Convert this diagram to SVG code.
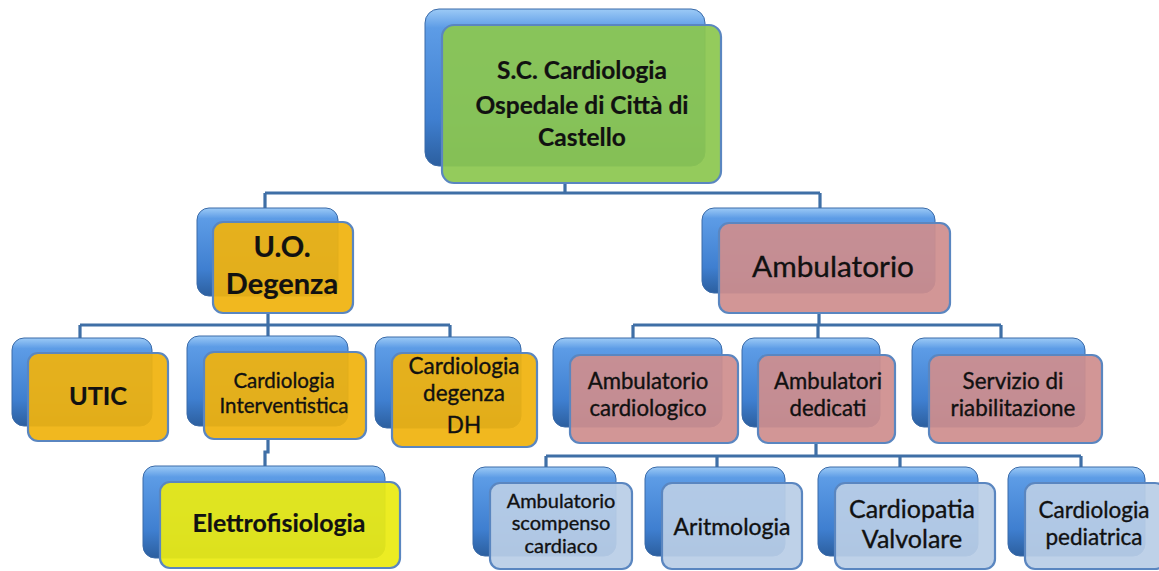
<svg xmlns="http://www.w3.org/2000/svg" width="1159" height="571" viewBox="0 0 1159 571">
<defs>
<linearGradient id="blueBack" x1="0" y1="0" x2="0" y2="1">
<stop offset="0" stop-color="#9ccaf6"/>
<stop offset="0.12" stop-color="#5d9ce6"/>
<stop offset="0.7" stop-color="#3f7fd0"/>
<stop offset="1" stop-color="#2c5f9f"/>
</linearGradient>
<style>
.back{fill:url(#blueBack);stroke:#3a6aa8;stroke-width:1}
.front{stroke:#5a86c0;stroke-width:2.2;fill-opacity:0.93}
.green{fill:#8cc750}
.orange{fill:#f0b30e}
.pink{fill:#cf8e8e}
.yellow{fill:#ebeb12}
.lblue{fill:#b9cde6}
text{font-family:Lato,"Open Sans","Liberation Sans",sans-serif;fill:#111;text-anchor:middle;stroke:#111;stroke-width:0.35}
.b{font-weight:700;stroke-width:0.2}
.conn{fill:none;stroke:#3f6fa6;stroke-width:3.2}
</style>
</defs>
<rect width="1159" height="571" fill="#ffffff"/>
<g id="connectors">
<path class="conn" d="M565 183V193M265 193H820M265 193V208M820 193V208"/>
<path class="conn" d="M268 313V325M80 325H450M80 325V340M268 325V338M450 325V339"/>
<path class="conn" d="M819 313V325M633 325H1001M633 325V340M818 325V340M1001 325V340"/>
<path class="conn" d="M268 439V452H265V467"/>
<path class="conn" d="M816 443V456M546 456H1081M546 456V468M717 456V468M900 456V468M1081 456V468"/>
</g>
<g id="n-top">
<rect class="back" x="425" y="9" width="280" height="157" rx="14"/>
<rect class="front green" x="442" y="25" width="279" height="158" rx="12"/>
<text class="b" x="582" y="79" font-size="24.5">S.C. Cardiologia</text>
<text class="b" x="582" y="114" font-size="24.5">Ospedale di Città di</text>
<text class="b" x="582" y="146" font-size="24.5">Castello</text>
</g>
<g id="n-degenza">
<rect class="back" x="197" y="208" width="141" height="88" rx="12"/>
<rect class="front orange" x="213" y="222" width="140" height="91" rx="10"/>
<text class="b" x="282" y="257" font-size="29">U.O.</text>
<text class="b" x="282" y="294" font-size="29">Degenza</text>
</g>
<g id="n-ambulatorio">
<rect class="back" x="702" y="208" width="233" height="85" rx="12"/>
<rect class="front pink" x="719" y="223" width="231" height="90" rx="10"/>
<text x="833" y="277" font-size="29.8">Ambulatorio</text>
</g>
<g id="n-utic">
<rect class="back" x="12" y="338" width="140" height="88" rx="12"/>
<rect class="front orange" x="28" y="353" width="140" height="88" rx="10"/>
<text class="b" x="98" y="405" font-size="25.3">UTIC</text>
</g>
<g id="n-interv">
<rect class="back" x="187" y="336" width="161" height="90" rx="12"/>
<rect class="front orange" x="204" y="352" width="162" height="87" rx="10"/>
<text x="284" y="388" font-size="20.5">Cardiologia</text>
<text x="284" y="413" font-size="20.5">Interventistica</text>
</g>
<g id="n-dh">
<rect class="back" x="375" y="337" width="146" height="91" rx="12"/>
<rect class="front orange" x="392" y="353" width="145" height="94" rx="10"/>
<text x="464" y="374" font-size="22.5">Cardiologia</text>
<text x="464" y="401" font-size="22.5">degenza</text>
<text x="464" y="433" font-size="22.5">DH</text>
</g>
<g id="n-amb-cardio">
<rect class="back" x="553" y="338" width="169" height="89" rx="12"/>
<rect class="front pink" x="570" y="355" width="168" height="88" rx="10"/>
<text x="648" y="389" font-size="22.2">Ambulatorio</text>
<text x="648" y="416" font-size="22.2">cardiologico</text>
</g>
<g id="n-amb-dedicati">
<rect class="back" x="742" y="338" width="138" height="89" rx="12"/>
<rect class="front pink" x="758" y="355" width="137" height="88" rx="10"/>
<text x="828" y="389" font-size="22.2">Ambulatori</text>
<text x="828" y="416" font-size="22.2">dedicati</text>
</g>
<g id="n-riab">
<rect class="back" x="912" y="338" width="173" height="89" rx="12"/>
<rect class="front pink" x="929" y="355" width="173" height="88" rx="10"/>
<text x="1013" y="389" font-size="22.4">Servizio di</text>
<text x="1013" y="416" font-size="22.4">riabilitazione</text>
</g>
<g id="n-elettro">
<rect class="back" x="143" y="466" width="242" height="92" rx="12"/>
<rect class="front yellow" x="160" y="482" width="240" height="86" rx="10"/>
<text class="b" x="279" y="532" font-size="24.9">Elettrofisiologia</text>
</g>
<g id="n-scompenso">
<rect class="back" x="473" y="467" width="143" height="89" rx="12"/>
<rect class="front lblue" x="490" y="483" width="142" height="86" rx="10"/>
<text x="561" y="508" font-size="20">Ambulatorio</text>
<text x="561" y="530" font-size="20">scompenso</text>
<text x="561" y="553" font-size="20">cardiaco</text>
</g>
<g id="n-aritmologia">
<rect class="back" x="645" y="467" width="140" height="89" rx="12"/>
<rect class="front lblue" x="662" y="483" width="140" height="86" rx="10"/>
<text x="732" y="535" font-size="23">Aritmologia</text>
</g>
<g id="n-valvolare">
<rect class="back" x="818" y="467" width="160" height="89" rx="12"/>
<rect class="front lblue" x="835" y="483" width="160" height="86" rx="10"/>
<text x="912" y="518" font-size="25">Cardiopatia</text>
<text x="912" y="548" font-size="25">Valvolare</text>
</g>
<g id="n-pediatrica">
<rect class="back" x="1008" y="467" width="137" height="89" rx="12"/>
<rect class="front lblue" x="1025" y="483" width="140" height="86" rx="10"/>
<text x="1094" y="518" font-size="22.5">Cardiologia</text>
<text x="1094" y="545" font-size="22.5">pediatrica</text>
</g>
</svg>
